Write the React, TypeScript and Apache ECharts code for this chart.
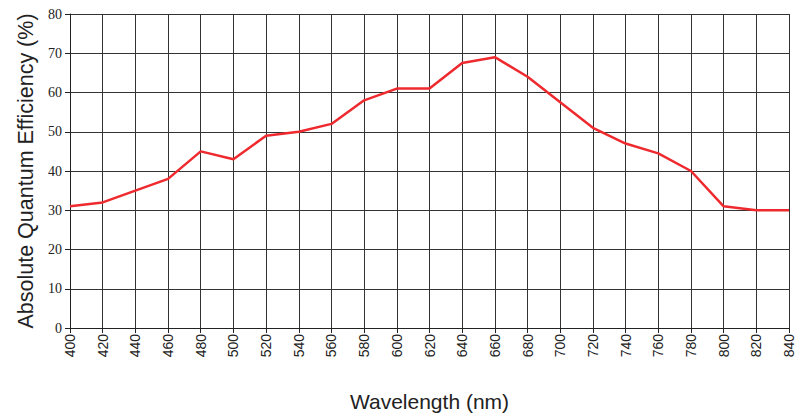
import React, { useEffect, useRef } from "react";
import * as echarts from "echarts";

const wavelengths = [400, 420, 440, 460, 480, 500, 520, 540, 560, 580, 600, 620, 640, 660, 680, 700, 720, 740, 760, 780, 800, 820, 840];
const efficiency = [31, 32, 35, 38, 45, 43, 49, 50, 52, 58, 61, 61, 67.5, 69, 64, 57.5, 51, 47, 44.5, 40, 31, 30, 30];

export default function App() {
  const ref = useRef<HTMLDivElement>(null);
  useEffect(() => {
    const chart = echarts.init(ref.current!, null, { renderer: "svg" });
    chart.setOption({
      animation: false,
      backgroundColor: "#ffffff",
      grid: { left: 70, right: 10, top: 14, bottom: 85, containLabel: false, outerBoundsMode: "none" },
      xAxis: {
        type: "value",
        min: 400,
        max: 840,
        interval: 20,
        name: "Wavelength (nm)",
        nameLocation: "middle",
        nameGap: 63,
        nameTextStyle: { fontFamily: "'Liberation Sans', Arial, sans-serif", fontSize: 21, color: "#222" },
        axisLine: { show: true, lineStyle: { color: "#222", width: 1 } },
        axisTick: { show: true, length: 5, lineStyle: { color: "#222" } },
        axisLabel: { rotate: 90, fontFamily: "'Liberation Sans', Arial, sans-serif", fontSize: 14, color: "#222", margin: 6 },
        splitLine: { show: true, lineStyle: { color: "#333", width: 1 } },
      },
      yAxis: {
        type: "value",
        min: 0,
        max: 80,
        interval: 10,
        name: "Absolute Quantum Efficiency (%)",
        nameLocation: "middle",
        nameGap: 33,
        nameTextStyle: { fontFamily: "'Liberation Sans', Arial, sans-serif", fontSize: 21.5, color: "#222" },
        axisLine: { show: true, lineStyle: { color: "#222", width: 1 } },
        axisTick: { show: true, length: 5, lineStyle: { color: "#222" } },
        axisLabel: { fontFamily: "'Liberation Serif', 'Times New Roman', serif", fontSize: 14, color: "#222", margin: 8 },
        splitLine: { show: true, lineStyle: { color: "#333", width: 1 } },
      },
      series: [
        {
          type: "line",
          data: wavelengths.map((w, i) => [w, efficiency[i]]),
          showSymbol: false,
          lineStyle: { color: "#ee2a2f", width: 2.5 },
          itemStyle: { color: "#ee2a2f" },
        },
      ],
    });
    return () => chart.dispose();
  }, []);
  return <div ref={ref} style={{ position: "absolute", left: 0, top: 0, width: 799, height: 413 }} />;
}
